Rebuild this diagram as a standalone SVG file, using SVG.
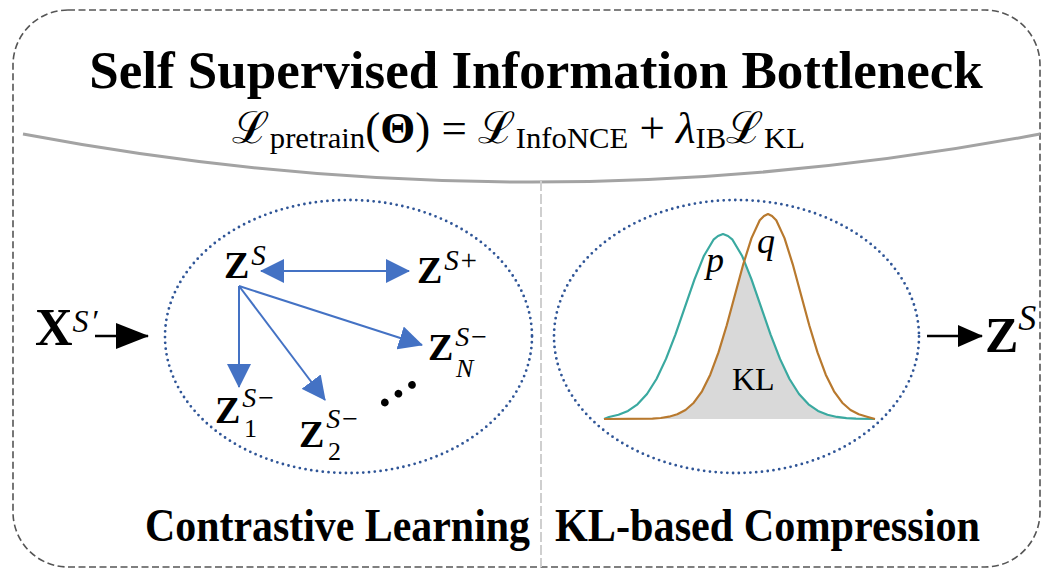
<svg xmlns="http://www.w3.org/2000/svg" width="1046" height="573" viewBox="0 0 1046 573">
<style>
.serif{font-family:"Liberation Serif","DejaVu Serif",serif;fill:#000}
.b{font-weight:bold}
.it{font-style:italic;font-weight:normal}
.dotted{fill:none;stroke:#2F5597;stroke-width:2.8;stroke-dasharray:0 5.8;stroke-linecap:round}
.blue{stroke:#4472C4;stroke-width:2;fill:none}
.blk{stroke:#000;stroke-width:2.5;fill:none}
</style>
<defs>
<marker id="bh" viewBox="0 0 24 24" refX="23" refY="12" markerWidth="24" markerHeight="24" markerUnits="userSpaceOnUse" orient="auto-start-reverse">
<path d="M0,0 L24,12 L0,24 Z" fill="#4472C4"/>
</marker>
<marker id="kh1" viewBox="0 0 33 26" refX="32" refY="13" markerWidth="33" markerHeight="26" markerUnits="userSpaceOnUse" orient="auto">
<path d="M0,0 L33,13 L0,26 Z" fill="#000"/>
</marker>
<marker id="kh2" viewBox="0 0 25 22" refX="24" refY="11" markerWidth="25" markerHeight="22" markerUnits="userSpaceOnUse" orient="auto">
<path d="M0,0 L25,11 L0,22 Z" fill="#000"/>
</marker>
</defs>

<g id="frame">
<rect x="13" y="10" width="1027" height="557" rx="55" ry="55" fill="none" stroke="#555" stroke-width="1.6" stroke-dasharray="7 3.5"/>
<path d="M23,134 Q531,230 1040,134" fill="none" stroke="#a3a3a3" stroke-width="3"/>
<line x1="541" y1="181" x2="541" y2="567" stroke="#cfcfcf" stroke-width="2" stroke-dasharray="10 3"/>
</g>

<g id="title">
<text class="serif b" x="536" y="88" font-size="53" text-anchor="middle">Self Supervised Information Bottleneck</text>
<text class="serif" x="232" y="143" font-size="44" textLength="573" lengthAdjust="spacingAndGlyphs">ℒ<tspan font-size="30" dy="5">pretrain</tspan><tspan dy="-5">(</tspan><tspan class="b">Θ</tspan>) = ℒ<tspan font-size="30" dy="5">InfoNCE</tspan><tspan dy="-5"> + </tspan><tspan class="it">λ</tspan><tspan font-size="30" dy="5">IB</tspan><tspan dy="-5">ℒ</tspan><tspan font-size="30" dy="5">KL</tspan></text>
</g>

<g id="input">
<text class="serif b" x="35" y="345" font-size="52">X<tspan class="it" font-size="32" dy="-13">S</tspan><tspan class="it" font-size="32" dx="2">′</tspan></text>
</g>

<g id="contrastive">
<ellipse class="dotted" cx="348.5" cy="336.5" rx="183.5" ry="136.5"/>
<g id="zs"><text class="serif b" x="224" y="278" font-size="38">Z<tspan class="it" font-size="29" dy="-13" dx="2">S</tspan></text></g>
<g id="zsplus"><text class="serif b" x="417" y="283" font-size="38">Z<tspan class="it" font-size="29" dy="-13" dx="2">S+</tspan></text></g>
<g id="zn"><text class="serif b" x="428" y="360" font-size="38">Z<tspan class="it" font-size="28" dy="-14" dx="2">S−</tspan></text><text class="serif it" x="456" y="377" font-size="26">N</text></g>
<g id="z1"><text class="serif b" x="215" y="423" font-size="38">Z<tspan class="it" font-size="28" dy="-16" dx="2">S−</tspan></text><text class="serif" x="244" y="437" font-size="26">1</text></g>
<g id="z2"><text class="serif b" x="299" y="447" font-size="38">Z<tspan class="it" font-size="28" dy="-19" dx="2">S−</tspan></text><text class="serif" x="328" y="460" font-size="26">2</text></g>
<text class="serif b" font-size="48" text-anchor="middle" transform="translate(398,393) rotate(-33)" x="0" y="4">…</text>
<text class="serif b" x="145" y="541" font-size="46" textLength="385" lengthAdjust="spacingAndGlyphs">Contrastive Learning</text>
</g>

<g id="compression">
<ellipse class="dotted" cx="736.5" cy="336.5" rx="182.5" ry="136.5"/>
<polygon fill="#d9d9d9" points="604,419 652.5,418.55 660.75,418 669,416.7 677.25,414.3 685.5,410 693.75,402.7 702,391.3 710.25,374.7 718.5,352.4 726.75,325.2 735,294.7 743.25,264.3 744.2,262 751.5,279.4 761,306.8 770.5,334.3 780,358.9 789.5,379 799,394 808.5,404.3 818,410.9 827.5,414.8 837,416.95 846.5,418.06 856,418.6 875,419"/>
<polyline fill="none" stroke="#3AA9A0" stroke-width="2.2" stroke-linejoin="round" points="604,419 609,416.95 618.5,414.8 628,410.9 637.5,404.3 647,394 656.5,379 666,358.9 675.5,334.3 685,306.8 694.5,279.4 704,255.7 713.5,239.7 718,236 723,234 728,236 732.5,239.7 742,255.7 751.5,279.4 761,306.8 770.5,334.3 780,358.9 789.5,379 799,394 808.5,404.3 818,410.9 827.5,414.8 837,416.95 846.5,418.06 856,418.6 875,419"/>
<polyline fill="none" stroke="#B8792E" stroke-width="2.2" stroke-linejoin="round" points="604,419 652.5,418.55 660.75,418 669,416.7 677.25,414.3 685.5,410 693.75,402.7 702,391.3 710.25,374.7 718.5,352.4 726.75,325.2 735,294.7 743.25,264.3 751.5,238.1 759.75,220.3 764,216 768,214 772,216 776.25,220.3 784.5,238.1 792.75,264.3 801,294.7 809.25,325.2 817.5,352.4 825.75,374.7 834,391.3 842.25,402.7 850.5,410 858.75,414.3 867,416.7 875,419"/>
<text class="serif it" x="706" y="272" font-size="36">p</text>
<text class="serif it" x="757" y="253" font-size="36">q</text>
<text class="serif" x="732" y="390" font-size="32">KL</text>
<text class="serif b" x="555" y="541" font-size="46" textLength="425" lengthAdjust="spacingAndGlyphs">KL-based Compression</text>
</g>

<g id="output">
<text class="serif b" x="985" y="352" font-size="50">Z<tspan class="it" font-size="36" dy="-22">S</tspan></text>
</g>

<g id="connectors">
<line class="blue" x1="261" y1="271" x2="409" y2="271" marker-start="url(#bh)" marker-end="url(#bh)"/>
<line class="blue" x1="239" y1="286" x2="239" y2="387" marker-end="url(#bh)"/>
<line class="blue" x1="239" y1="286" x2="325" y2="400" marker-end="url(#bh)"/>
<line class="blue" x1="239" y1="286" x2="422" y2="345" marker-end="url(#bh)"/>
<line class="blk" x1="95" y1="336" x2="148" y2="336" marker-end="url(#kh1)"/>
<line class="blk" x1="927" y1="336" x2="982" y2="336" marker-end="url(#kh2)"/>
</g>
</svg>
